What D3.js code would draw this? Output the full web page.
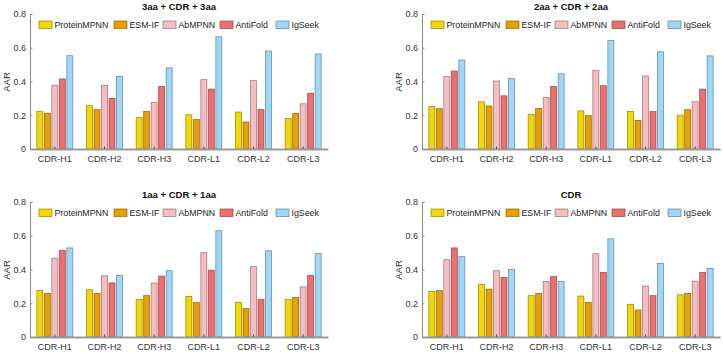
<!DOCTYPE html>
<html>
<head>
<meta charset="utf-8">
<script src="https://cdn.jsdelivr.net/npm/d3@7"></script>
<style>
  body { margin: 0; background: white; }
  text { font-family: "Liberation Sans", Arial, sans-serif; }
</style>
</head>
<body>
<div id="chart"></div>
<script>
// categories and methods
const regions = ['CDR-H1', 'CDR-H2', 'CDR-H3', 'CDR-L1', 'CDR-L2', 'CDR-L3'];
const methods = ['ProteinMPNN', 'ESM-IF', 'AbMPNN', 'AntiFold', 'IgSeek'];
const colors = ['#f2d800', '#e6a000', '#f6bcc0', '#ee6f6f', '#9dd8f8'];
const yTicks = [0, 0.2, 0.4, 0.6, 0.8];

// values per panel, one row per region, one column per method
const aa3 = [
  [0.222, 0.212, 0.378, 0.415, 0.553],
  [0.257, 0.233, 0.377, 0.300, 0.430],
  [0.187, 0.222, 0.275, 0.370, 0.481],
  [0.203, 0.175, 0.411, 0.355, 0.665],
  [0.219, 0.160, 0.405, 0.234, 0.581],
  [0.181, 0.210, 0.268, 0.330, 0.563]
];
const aa2 = [
  [0.251, 0.239, 0.429, 0.462, 0.527],
  [0.280, 0.255, 0.403, 0.315, 0.417],
  [0.206, 0.240, 0.305, 0.370, 0.446],
  [0.226, 0.198, 0.466, 0.375, 0.643],
  [0.222, 0.169, 0.433, 0.222, 0.576],
  [0.200, 0.233, 0.280, 0.355, 0.552]
];
const aa1 = [
  [0.275, 0.258, 0.467, 0.513, 0.528],
  [0.280, 0.258, 0.363, 0.321, 0.364],
  [0.222, 0.245, 0.320, 0.361, 0.393],
  [0.240, 0.204, 0.500, 0.396, 0.630],
  [0.205, 0.170, 0.417, 0.222, 0.511],
  [0.222, 0.235, 0.297, 0.364, 0.494]
];
const cdrOnly = [
  [0.270, 0.275, 0.458, 0.528, 0.476],
  [0.312, 0.284, 0.393, 0.353, 0.401],
  [0.245, 0.259, 0.329, 0.358, 0.329],
  [0.243, 0.205, 0.493, 0.382, 0.582],
  [0.194, 0.160, 0.302, 0.245, 0.435],
  [0.250, 0.258, 0.331, 0.383, 0.407]
];

const panels = [
  { title: '3aa + CDR + 3aa', data: aa3, ox: 0, oy: 0 },
  { title: '2aa + CDR + 2aa', data: aa2, ox: 392, oy: 0 },
  { title: '1aa + CDR + 1aa', data: aa1, ox: 0, oy: 188 },
  { title: 'CDR', data: cdrOnly, ox: 392, oy: 188 }
];

const W = 723, H = 356;
const svg = d3.select('#chart').append('svg')
  .attr('width', W)
  .attr('height', H)
  .style('background', 'white');

// shared scales (panel local coordinates)
const x = d3.scaleBand().domain(regions).range([30, 328]).paddingInner(0).paddingOuter(0);
const xInner = d3.scaleBand().domain(methods).range([-18, 18]).paddingInner(0.2).paddingOuter(0);
const y = d3.scaleLinear().domain([0, 0.8]).range([149, 14]);
const color = d3.scaleOrdinal().domain(methods).range(colors);

function drawPanel(p) {
  const g = svg.append('g').attr('transform', 'translate(' + p.ox + ',' + p.oy + ')');

  // title
  g.append('text')
    .attr('x', 179)
    .attr('y', 10)
    .attr('text-anchor', 'middle')
    .style('font-size', '9.5px')
    .style('font-weight', 'bold')
    .style('fill', '#111')
    .text(p.title);

  // bars
  const groups = g.selectAll('g.grp')
    .data(p.data)
    .enter()
    .append('g')
    .attr('class', 'grp')
    .attr('transform', (d, i) => 'translate(' + (x(regions[i]) + x.bandwidth() / 2) + ',0)');

  groups.selectAll('rect')
    .data(d => d.map((v, j) => ({ m: methods[j], v: v })))
    .enter()
    .append('rect')
    .attr('x', d => xInner(d.m))
    .attr('y', d => y(d.v))
    .attr('width', xInner.bandwidth())
    .attr('height', d => y(0) - y(d.v))
    .attr('fill', d => color(d.m))
    .attr('stroke', d => d3.color(color(d.m)).darker(1.6))
    .attr('stroke-opacity', 0.8)
    .attr('stroke-width', 0.8);

  // y axis
  const yAxis = g.append('g')
    .attr('transform', 'translate(30,0)')
    .call(d3.axisLeft(y).tickValues(yTicks).tickSize(-2.5).tickPadding(4).tickFormat(d => d === 0 ? '0' : d3.format('.1f')(d)));
  yAxis.select('.domain').attr('stroke', '#8c8c8c');
  yAxis.selectAll('.tick line').attr('stroke', '#8c8c8c');
  yAxis.selectAll('text').style('font-size', '9px').style('fill', '#333');

  // x axis
  const xAxis = g.append('g')
    .attr('transform', 'translate(0,149)')
    .call(d3.axisBottom(x).tickSize(-2.5).tickPadding(7).tickSizeOuter(0));
  xAxis.select('.domain').attr('stroke', '#9a9a9a').attr('stroke-width', 2);
  xAxis.selectAll('.tick line').attr('stroke', '#555');
  xAxis.selectAll('text').style('font-size', '9px').style('fill', '#333');

  // y label
  g.append('text')
    .attr('transform', 'translate(10,82) rotate(-90)')
    .attr('text-anchor', 'middle')
    .style('font-size', '9.5px')
    .style('fill', '#333')
    .text('AAR');

  // legend
  const legendX = [39, 114, 163, 220, 276];
  const leg = g.selectAll('g.leg')
    .data(methods)
    .enter()
    .append('g')
    .attr('class', 'leg')
    .attr('transform', (d, i) => 'translate(' + legendX[i] + ',21)');
  leg.append('rect')
    .attr('width', 13)
    .attr('height', 7.5)
    .attr('fill', d => color(d))
    .attr('stroke', d => d3.color(color(d)).darker(1.6))
    .attr('stroke-opacity', 0.8)
    .attr('stroke-width', 0.8);
  leg.append('text')
    .attr('x', 15.5)
    .attr('y', 7.3)
    .style('font-size', '8.8px')
    .style('fill', '#222')
    .text(d => d);
}

panels.forEach(drawPanel);
</script>
</body>
</html>
